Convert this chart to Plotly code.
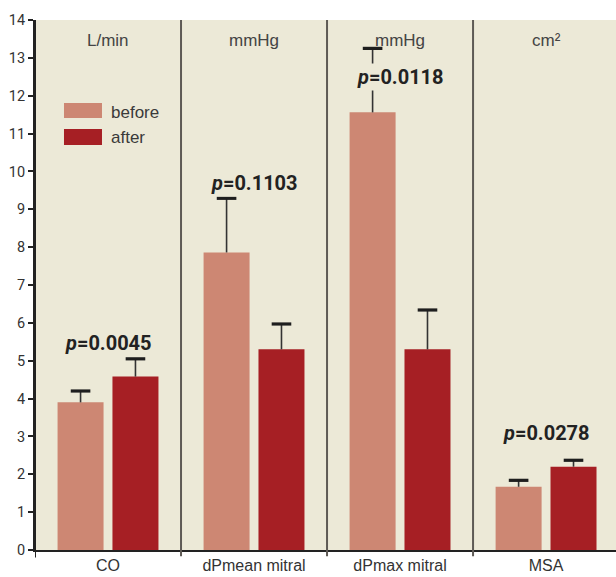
import plotly.graph_objects as go

categories = ["CO", "dPmean mitral", "dPmax mitral", "MSA"]
units = ["L/min", "mmHg", "mmHg", "cm²"]
before = [3.9, 7.86, 11.56, 1.67]
before_err = [0.3, 1.43, 1.69, 0.17]
after = [4.58, 5.3, 5.3, 2.2]
after_err = [0.47, 0.67, 1.04, 0.17]
p_labels = ["0.0045", "0.1103", "0.0118", "0.0278"]
p_y = [5.47, 9.69, 12.49, 3.09]

C_BEFORE = "#CD8773"
C_AFTER = "#A61F24"
BG = "#ECE9D7"
TICKFONT = "Roboto, Liberation Sans, sans-serif"
PFONT = "Roboto, Liberation Sans, sans-serif"
SANS = "Liberation Sans, Arial, sans-serif"

BAR_W = 0.315
CENTER = {"before": -0.188, "after": 0.188}

xs = list(range(len(categories)))

fig = go.Figure()
for name, vals, errs, col in [("before", before, before_err, C_BEFORE),
                              ("after", after, after_err, C_AFTER)]:
    c = CENTER[name]
    fig.add_trace(go.Bar(
        x=xs, y=vals, name=name, marker_color=col, marker_line_width=0,
        width=BAR_W, offset=c - BAR_W / 2, hoverinfo="skip",
    ))
    sx, sy = [], []
    for i, v, e in zip(xs, vals, errs):
        sx += [i + c, i + c, None]
        sy += [v, v + e, None]
    fig.add_trace(go.Scatter(x=sx, y=sy, mode="lines", line=dict(color="#333333", width=1.6),
                             hoverinfo="skip", showlegend=False))
    fig.add_trace(go.Scatter(x=[i + c for i in xs], y=[v + e for v, e in zip(vals, errs)],
                             mode="markers",
                             marker=dict(symbol="line-ew", size=14,
                                         line=dict(color="#1e1e1e", width=3.2)),
                             hoverinfo="skip", showlegend=False))

shapes = []
for i in range(1, len(categories)):
    shapes.append(dict(type="line", xref="x", yref="paper", x0=i - 0.5, x1=i - 0.5,
                       y0=-0.012, y1=1, line=dict(color="#5E5A55", width=2), layer="above"))
shapes.append(dict(type="line", xref="x", yref="paper", x0=-0.5, x1=-0.5,
                   y0=-0.014, y1=1, line=dict(color="#222222", width=2), layer="above"))

shapes.append(dict(type="rect", xref="paper", yref="paper", x0=0.0499, x1=0.1153,
                   y0=0.8151, y1=0.8434, fillcolor=C_BEFORE, line_width=0))
shapes.append(dict(type="rect", xref="paper", yref="paper", x0=0.0499, x1=0.1153,
                   y0=0.7642, y1=0.7943, fillcolor=C_AFTER, line_width=0))

annotations = []
annotations.append(dict(xref="paper", yref="paper", x=0.1274, y=0.8264, text="before",
                        showarrow=False, xanchor="left", yanchor="middle",
                        font=dict(family=SANS, size=17, color="#3a3a3a")))
annotations.append(dict(xref="paper", yref="paper", x=0.1274, y=0.7792, text="after",
                        showarrow=False, xanchor="left", yanchor="middle",
                        font=dict(family=SANS, size=17, color="#3a3a3a")))
for i, u in zip(xs, units):
    annotations.append(dict(xref="x", yref="paper", x=i, y=0.962, text=u, showarrow=False,
                            xanchor="center", yanchor="middle",
                            font=dict(family=SANS, size=17, color="#444444")))
for i, p, yy in zip(xs, p_labels, p_y):
    annotations.append(dict(xref="x", yref="y", x=i, y=yy,
                            text="<b><i>p</i>=" + p + "</b>", showarrow=False,
                            xanchor="center", yanchor="middle", bgcolor=BG, borderpad=1,
                            font=dict(family=PFONT, size=20, color="#222222")))

fig.update_layout(
    width=616, height=577,
    margin=dict(l=35, r=0, t=20, b=27),
    paper_bgcolor="white", plot_bgcolor=BG,
    barmode="overlay",
    showlegend=False,
    shapes=shapes, annotations=annotations,
    xaxis=dict(range=[-0.5, 3.479], showgrid=False, showline=True, linecolor="#222222",
               linewidth=2, ticks="", tickmode="array", tickvals=xs, ticktext=categories,
               tickfont=dict(family=SANS, size=16, color="#333333"), zeroline=False),
    yaxis=dict(range=[0, 14], dtick=1, showgrid=False, showline=True, linecolor="#222222",
               linewidth=2, ticks="outside", ticklen=5, tickwidth=2, tickcolor="#222222",
               tickfont=dict(family=TICKFONT, size=14.5, color="#333333"), zeroline=False),
)

fig.write_html("out.html", config={"displayModeBar": False},
               post_script="document.body.style.margin='0';document.body.style.overflow='hidden';")
